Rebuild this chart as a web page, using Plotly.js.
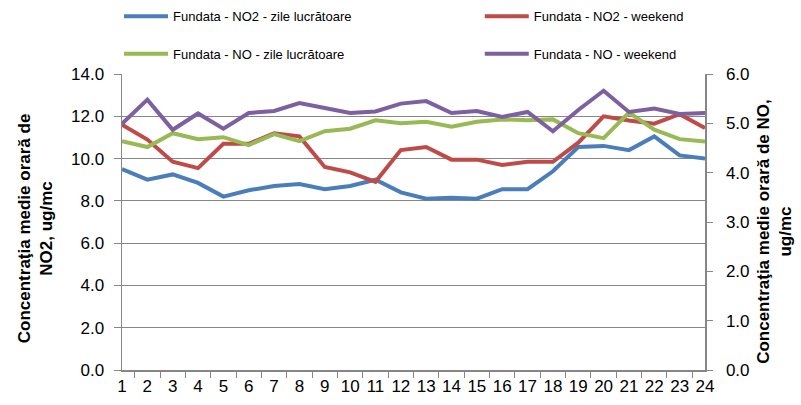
<!DOCTYPE html>
<html>
<head>
<meta charset="utf-8">
<script src="https://cdn.plot.ly/plotly-3.0.1.min.js"></script>
<style>html,body{margin:0;padding:0;background:#fff;}#chart{width:801px;height:405px;}</style>
</head>
<body>
<div id="chart"></div>
<script>
var hours = ['1','2','3','4','5','6','7','8','9','10','11','12','13','14','15','16','17','18','19','20','21','22','23','24'];
var no2Weekday = [9.5, 9.0, 9.25, 8.85, 8.2, 8.5, 8.7, 8.8, 8.55, 8.7, 9.0, 8.4, 8.1, 8.15, 8.1, 8.55, 8.55, 9.4, 10.55, 10.6, 10.4, 11.05, 10.15, 10.0];
var no2Weekend = [11.6, 10.9, 9.85, 9.55, 10.7, 10.7, 11.2, 11.05, 9.6, 9.35, 8.9, 10.4, 10.55, 9.95, 9.95, 9.7, 9.85, 9.85, 10.75, 12.0, 11.8, 11.65, 12.1, 11.45];
var noWeekday = [4.64, 4.52, 4.8, 4.68, 4.72, 4.56, 4.78, 4.64, 4.84, 4.89, 5.06, 5.0, 5.03, 4.93, 5.03, 5.08, 5.06, 5.08, 4.8, 4.7, 5.22, 4.87, 4.68, 4.63];
var noWeekend = [4.99, 5.48, 4.87, 5.2, 4.89, 5.21, 5.25, 5.41, 5.31, 5.21, 5.24, 5.4, 5.45, 5.21, 5.25, 5.13, 5.23, 4.84, 5.27, 5.66, 5.23, 5.3, 5.19, 5.21];
var names = ['Fundata - NO2 - zile lucrătoare', 'Fundata - NO2 - weekend', 'Fundata - NO - zile lucrătoare', 'Fundata - NO - weekend'];
var leftTitle = 'Concentraţia medie orară de<br>NO2, ug/mc';
var rightTitle = 'Concentraţia medie orară de NO,<br>ug/mc';
var colors = ['#4A7EBB', '#BE4B48', '#98B954', '#7D60A0'];

function tr(y, i, yaxis, legend) {
  return {x: hours, y: y, name: names[i], type: 'scatter', mode: 'lines', yaxis: yaxis, legend: legend,
          line: {color: colors[i], width: 4}, hoverinfo: 'x+y'};
}
var data = [
  tr(no2Weekday, 0, 'y', 'legend'),
  tr(no2Weekend, 1, 'y', 'legend2'),
  tr(noWeekday, 2, 'y2', 'legend3'),
  tr(noWeekend, 3, 'y2', 'legend4')
];
var grey = '#868686';
var tickFont = {family: 'Liberation Sans, Arial, sans-serif', size: 17, color: '#000'};
var titleFont = {family: 'Liberation Sans, Arial, sans-serif', size: 17, color: '#000', weight: 'bold'};
var legFont = {family: 'Liberation Sans, Arial, sans-serif', size: 13, color: '#000'};
function leg(x, y) {
  return {xref: 'container', yref: 'container', x: x, y: y, xanchor: 'left', yanchor: 'middle',
          font: legFont, bgcolor: 'rgba(0,0,0,0)', borderwidth: 0, itemwidth: 44};
}
var layout = {
  width: 801, height: 405,
  margin: {l: 122, r: 96, t: 74, b: 35, pad: 0, autoexpand: false},
  paper_bgcolor: '#fff', plot_bgcolor: '#fff',
  showlegend: true,
  xaxis: {type: 'category', tickson: 'boundaries', ticks: 'outside', ticklen: 6, tickcolor: grey, tickangle: 0,
          showline: true, linecolor: grey, linewidth: 1.5, showgrid: false, zeroline: false,
          tickfont: tickFont, automargin: false},
  yaxis: {range: [0, 14], dtick: 2, tickformat: '.1f', ticks: 'outside', ticklen: 7, tickcolor: grey,
          showline: true, linecolor: grey, linewidth: 1.5, showgrid: true, gridcolor: grey, gridwidth: 1,
          zeroline: false, tickfont: tickFont, ticklabelstandoff: 6, automargin: false},
  yaxis2: {range: [0, 6], dtick: 1, tickformat: '.1f', overlaying: 'y', side: 'right', ticks: 'outside',
           ticklen: 6, tickcolor: grey, showline: true, linecolor: grey, linewidth: 1.5, showgrid: false,
           zeroline: false, tickfont: tickFont, ticklabelstandoff: 10, automargin: false},
  annotations: [
    {text: leftTitle, xref: 'paper', yref: 'paper', x: -0.147, y: 0.48, xanchor: 'center', yanchor: 'middle',
     textangle: -90, showarrow: false, font: titleFont, align: 'center'},
    {text: rightTitle, xref: 'paper', yref: 'paper', x: 1.12, y: 0.47, xanchor: 'center', yanchor: 'middle',
     textangle: -90, showarrow: false, font: titleFont, align: 'center'}
  ],
  legend: leg(0.1486, 0.96),
  legend2: leg(0.599, 0.96),
  legend3: leg(0.1486, 0.867),
  legend4: leg(0.599, 0.867)
};
Plotly.newPlot('chart', data, layout, {displayModeBar: false, staticPlot: true});
</script>
</body>
</html>
